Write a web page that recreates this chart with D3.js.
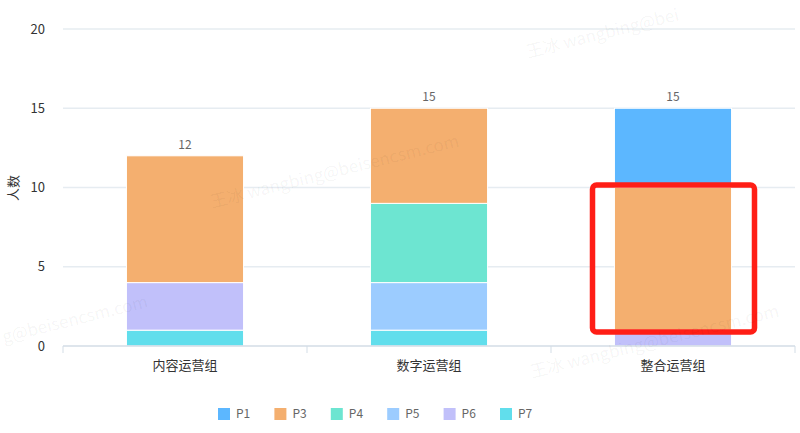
<!DOCTYPE html>
<html><head><meta charset="utf-8">
<script src="https://cdn.jsdelivr.net/npm/d3@7"></script>
<style>html,body{margin:0;padding:0;background:#fff;}svg{display:block;font-family:"Noto Sans CJK SC","Noto Sans",sans-serif;}</style>
</head><body><svg id="c" width="800" height="433"></svg>
<script>
const categories = ["内容运营组", "数字运营组", "整合运营组"];
const seriesNames = ["P1", "P3", "P4", "P5", "P6", "P7"];
const stackOrder = ["P7", "P6", "P5", "P4", "P3", "P1"];
const P1 = [0, 0, 5];
const P3 = [8, 6, 9];
const P4 = [0, 5, 0];
const P5 = [0, 3, 0];
const P6 = [3, 0, 1];
const P7 = [1, 1, 0];
const yTicks = [0, 5, 10, 15, 20];
const colors = {P1:"#5CB7FF", P3:"#F4AF6F", P4:"#6DE5D1", P5:"#9CCCFF", P6:"#C1C0FA", P7:"#61DEEC"};
const seriesValues = {P1, P3, P4, P5, P6, P7};

const svg = d3.select("#c");

const x = d3.scaleBand().domain(categories).range([63, 795]).paddingInner(0).paddingOuter(0);
const y = d3.scaleLinear().domain([0, 20]).range([346, 29]);

// grid
svg.append("g").selectAll("line").data(yTicks.filter(d => d > 0)).join("line")
  .attr("x1", 63).attr("x2", 795).attr("y1", d => y(d)).attr("y2", d => y(d))
  .attr("stroke", "#E6ECF1").attr("stroke-width", 1.5);

// y tick labels
svg.append("g").selectAll("text").data(yTicks).join("text")
  .attr("x", 45).attr("y", d => y(d)).attr("dy", "0.35em").attr("text-anchor", "end")
  .attr("fill", "#333").style("font-size", "13px").text(d => d);

// y title
svg.append("text").attr("transform", "translate(13,188) rotate(-90)").attr("text-anchor", "middle")
  .attr("dy", "0.35em").attr("fill", "#333").style("font-size", "13px").text("人数");

// stacked data
const table = categories.map((c, i) => {
  const o = {category: c};
  seriesNames.forEach(s => o[s] = seriesValues[s][i]);
  return o;
});
const stacked = d3.stack().keys(stackOrder)(table);
const bw = x.bandwidth() * 0.48;

svg.append("g").selectAll("g").data(stacked).join("g").attr("fill", d => colors[d.key])
  .selectAll("rect").data(d => d.filter(e => e[1] - e[0] > 0)).join("rect")
  .attr("x", d => x(d.data.category) + (x.bandwidth() - bw) / 2)
  .attr("width", bw)
  .attr("y", d => y(d[1]))
  .attr("height", d => y(d[0]) - y(d[1]))
  .attr("stroke", "#fff").attr("stroke-width", 1);

// totals
svg.append("g").selectAll("text").data(table).join("text")
  .attr("x", d => x(d.category) + x.bandwidth() / 2)
  .attr("y", d => y(d3.sum(seriesNames, s => d[s])) - 7)
  .attr("text-anchor", "middle").attr("fill", "#666").style("font-size", "12px")
  .text(d => d3.sum(seriesNames, s => d[s]));

// x axis
const xAxis = svg.append("g").attr("transform", "translate(0,346)");
xAxis.append("line").attr("x1", 63).attr("x2", 795).attr("stroke", "#D3DDE6").attr("stroke-width", 1.5);
const bounds = categories.map(c => x(c)).concat([x.range()[1]]);
xAxis.selectAll("line.t").data(bounds).join("line").attr("class", "t")
  .attr("x1", d => d).attr("x2", d => d).attr("y1", 0).attr("y2", 7)
  .attr("stroke", "#D3DDE6").attr("stroke-width", 1);
xAxis.selectAll("text").data(categories).join("text")
  .attr("x", d => x(d) + x.bandwidth() / 2).attr("y", 19).attr("dy", "0.35em")
  .attr("text-anchor", "middle").attr("fill", "#333").style("font-size", "13px").text(d => d);

// legend
const legend = svg.append("g").attr("transform", "translate(218,408)");
const items = legend.selectAll("g").data(seriesNames).join("g")
  .attr("transform", (d, i) => `translate(${i * 56.4},0)`);
items.append("rect").attr("width", 12).attr("height", 12).attr("fill", d => colors[d]);
items.append("text").attr("x", 18).attr("y", 6).attr("dy", "0.35em").attr("fill", "#666")
  .style("font-size", "12px").text(d => d);

// red annotation box
svg.append("rect").attr("x", 592.5).attr("y", 185).attr("width", 162).attr("height", 147)
  .attr("rx", 4).attr("fill", "none").attr("stroke", "#FF1E16").attr("stroke-width", 5.5);

// watermarks on top (only the parts visible inside the picture)
const wm = svg.append("g").attr("fill", "rgba(0,0,0,0.05)").style("font-size", "17px").style("pointer-events", "none");
[[528,58,"王冰 wangbing@bei"],[212,208,"王冰 wangbing@beisencsm.com"],[4,343,"g@beisencsm.com"],[532,378,"王冰 wangbing@beisencsm.com"]].forEach(([x,y,t]) => {
  wm.append("text").attr("transform", `translate(${x},${y}) rotate(-14)`).text(t);
});
</script></body></html>
